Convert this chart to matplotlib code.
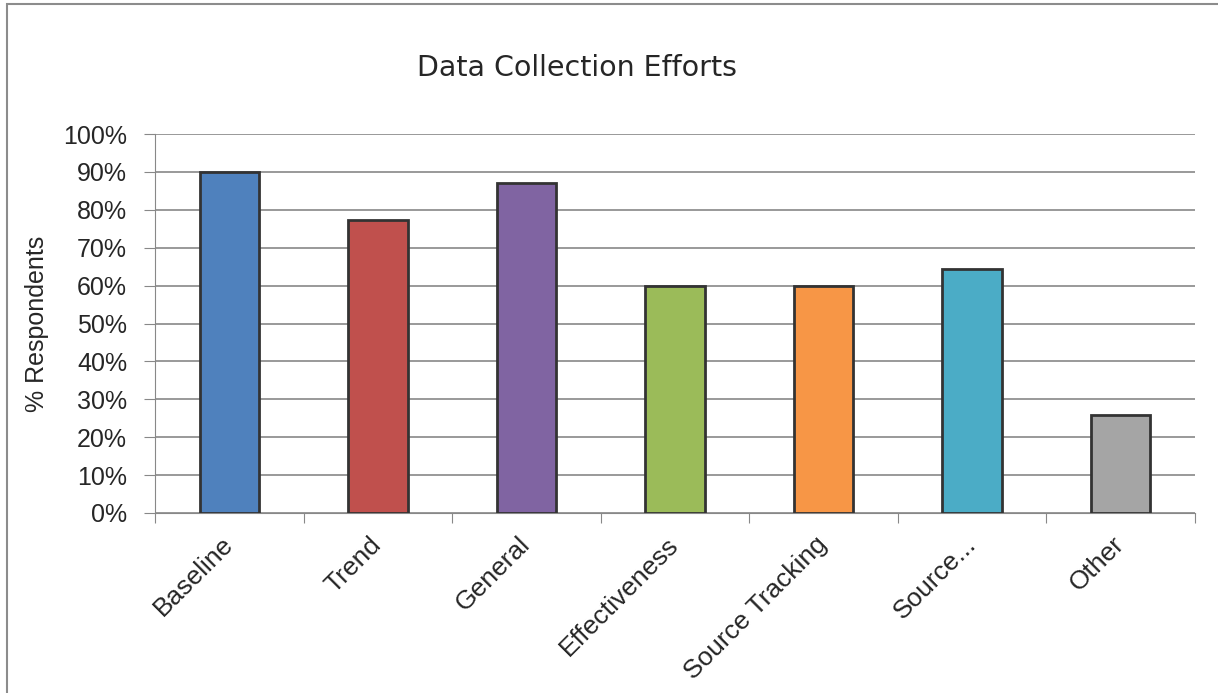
import matplotlib.pyplot as plt
from matplotlib.patches import Rectangle
from matplotlib.ticker import PercentFormatter

# Data
categories = ['Baseline', 'Trend', 'General', 'Effectiveness',
              'Source Tracking', 'Source...', 'Other']
values = [90.0, 77.3, 87.1, 60.0, 60.0, 64.3, 25.8]
colors = ['#4f81bd', '#c0504d', '#8064a2', '#9bbb59',
          '#f79646', '#4bacc6', '#a5a5a5']

plt.rcParams['font.family'] = ['Liberation Sans', 'DejaVu Sans']
text_color = '#262626'

fig = plt.figure(figsize=(12.18, 6.93), dpi=100)
ax = fig.add_axes([155 / 1218, 1 - 513 / 693, 1040 / 1218, 379 / 693])

# outer chart border (right/bottom edges run past the picture)
fig.patches.append(Rectangle((6.5 / 1218, -0.1), 1.2, 1 - 4.5 / 693 + 0.1,
                             transform=fig.transFigure, fill=False,
                             edgecolor='#8c8c8c', linewidth=1.5))

x = range(len(categories))
ax.bar(x, values, width=0.4, color=colors, edgecolor='#333333',
       linewidth=2, zorder=3)

ax.set_xlim(-0.5, len(categories) - 0.5)
ax.set_ylim(0, 100)
ax.set_yticks(range(0, 101, 10))
ax.yaxis.set_major_formatter(PercentFormatter(decimals=0))
ax.grid(axis='y', color='#888888', linewidth=1.2, zorder=0)

# category boundary ticks on the x axis, labels at centres
ax.set_xticks([i - 0.5 for i in range(len(categories) + 1)])
ax.set_xticklabels([])
ax.set_xticks(list(x), minor=True)
ax.set_xticklabels(categories, minor=True, rotation=45, ha='right',
                   va='center', rotation_mode='anchor', fontsize=19,
                   color=text_color)
ax.tick_params(axis='x', which='minor', length=0, pad=20)
ax.tick_params(axis='x', which='major', length=7, color='#888888')
ax.tick_params(axis='y', length=8, color='#888888', labelsize=18,
               labelcolor=text_color, pad=12)

for side in ['top', 'right']:
    ax.spines[side].set_visible(False)
ax.spines['left'].set_color('#888888')
ax.spines['bottom'].set_color('#888888')

ax.set_ylabel('% Respondents', fontsize=18, labelpad=10, color=text_color)
fig.text(577 / 1218, 1 - 68 / 693, 'Data Collection Efforts',
         ha='center', va='center', fontsize=20.5, color=text_color,
         family='DejaVu Sans')

fig.savefig('out.png', dpi=100)
